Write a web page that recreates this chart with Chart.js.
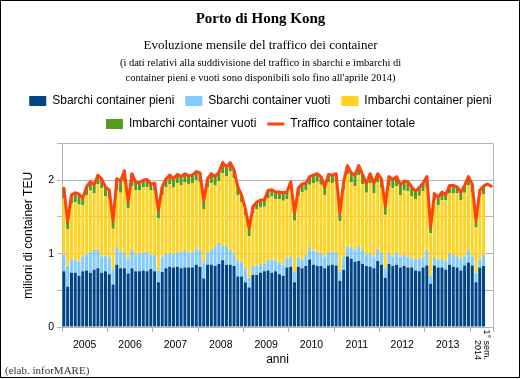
<!DOCTYPE html>
<html>
<head>
<meta charset="utf-8">
<script src="https://cdn.jsdelivr.net/npm/chart.js@4/dist/chart.umd.min.js"></script>
<style>
html,body{margin:0;padding:0;background:#fff;overflow:hidden}
canvas{display:block}
</style>
</head>
<body>
<canvas id="c" width="521" height="379"></canvas>
<script>
// ---- DATA (milioni di TEU, mensili: gen 2005 - giu 2014) ----
const anni = ['2005','2006','2007','2008','2009','2010','2011','2012','2013',''];
const ultimaEtichetta = ['1° sem.', '2014'];
const confiniAnni = [0,12,24,36,48,60,72,84,96,108,114];
const centriAnni = [6,18,30,42,54,66,78,90,102,111];

const sbarchiPieni = [
  .76,.55,.74,.74,.70,.76,.77,.74,.78,.80,.74,.76,
  .72,.58,.85,.80,.80,.73,.80,.76,.76,.77,.76,.79,
  .76,.61,.75,.80,.82,.81,.82,.80,.81,.81,.81,.85,
  .82,.66,.85,.85,.83,.86,.91,.85,.85,.83,.69,.69,
  .61,.54,.71,.71,.74,.76,.77,.74,.76,.72,.70,.81,
  .82,.61,.82,.80,.83,.92,.85,.83,.83,.80,.84,.85,
  .84,.63,.78,.96,.93,.89,.90,.86,.83,.82,.80,.90,
  .85,.67,.86,.83,.85,.81,.83,.81,.81,.77,.76,.81,
  .84,.59,.84,.81,.81,.78,.85,.82,.81,.77,.84,.88,
  .84,.61,.81,.83
];
const sbarchiVuoti = [
  .23,.28,.18,.18,.19,.20,.22,.28,.27,.25,.22,.21,
  .23,.21,.24,.22,.21,.20,.25,.23,.24,.24,.27,.19,
  .22,.16,.20,.20,.18,.18,.20,.21,.24,.21,.21,.22,
  .23,.22,.17,.20,.26,.29,.19,.25,.20,.16,.21,.20,
  .19,.13,.12,.13,.12,.10,.14,.18,.15,.16,.15,.14,
  .13,.14,.13,.12,.15,.17,.19,.19,.17,.16,.18,.17,
  .17,.13,.17,.14,.16,.16,.20,.19,.16,.17,.16,.16,
  .16,.13,.15,.13,.17,.15,.15,.15,.12,.16,.17,.14,
  .21,.11,.10,.11,.12,.12,.15,.16,.15,.16,.12,.17,
  .12,.13,.11,.15
];
const imbarchiPieni = [
  .77,.50,.77,.78,.78,.70,.81,.84,.77,.90,.93,.81,
  .81,.55,.77,.81,.97,.69,.87,.87,.86,.89,.88,.88,
  .88,.71,.85,.90,.95,.91,.94,.92,.92,.93,.94,.93,
  .93,.72,.88,.91,.84,.84,1.00,.96,1.07,1.04,.90,.81,
  .72,.57,.72,.76,.77,.78,.85,.86,.83,.86,.87,.79,
  .93,.70,.84,.92,.88,.85,.92,.96,.94,.84,.95,.94,
  .97,.68,.92,.98,.88,.87,.97,.90,.84,.97,.86,.91,
  .89,.73,.91,.93,.90,.84,.88,.89,.85,.81,.86,.90,
  .85,.58,.79,.74,.80,.83,.82,.84,.86,.80,.87,.88,
  .88,.62,.87,.83
];
const imbarchiVuoti = [
  .13,.10,.11,.13,.14,.10,.11,.12,.12,.12,.13,.13,
  .11,.10,.16,.16,.15,.08,.17,.11,.11,.10,.10,.09,
  .10,.11,.11,.12,.12,.12,.12,.12,.12,.11,.11,.12,
  .12,.12,.12,.13,.12,.12,.14,.12,.12,.11,.11,.10,
  .09,.10,.09,.10,.10,.09,.10,.09,.10,.10,.11,.10,
  .10,.10,.10,.11,.10,.11,.11,.11,.11,.11,.11,.11,
  .11,.11,.11,.12,.13,.15,.13,.13,.12,.13,.14,.12,
  .12,.12,.13,.12,.13,.14,.13,.13,.13,.11,.11,.11,
  .15,.08,.09,.11,.11,.07,.11,.11,.09,.11,.10,.12,
  .11,.09,.07,.11
];
const totale = [
  1.89,1.43,1.80,1.83,1.81,1.76,1.91,1.98,1.94,2.07,2.02,1.91,
  1.87,1.44,2.02,1.99,2.13,1.70,2.09,1.97,1.97,2.00,2.01,1.95,
  1.96,1.59,1.91,2.02,2.07,2.02,2.08,2.05,2.09,2.06,2.07,2.12,
  2.10,1.72,2.02,2.09,2.05,2.11,2.24,2.18,2.24,2.14,1.91,1.80,
  1.61,1.34,1.64,1.70,1.73,1.73,1.86,1.87,1.84,1.84,1.83,1.84,
  1.98,1.55,1.89,1.95,1.96,2.05,2.07,2.09,2.05,1.91,2.08,2.07,
  2.09,1.55,1.98,2.20,2.10,2.07,2.20,2.08,1.95,2.09,1.96,2.09,
  2.02,1.65,2.05,2.01,2.05,1.94,1.99,1.98,1.91,1.85,1.90,1.96,
  2.05,1.36,1.82,1.77,1.84,1.80,1.93,1.93,1.91,1.84,1.93,2.05,
  1.95,1.45,1.86,1.92,1.95,1.92
];
const titolo = 'Porto di Hong Kong';
const sottotitolo = 'Evoluzione mensile del traffico dei container';
const nota = ["(i dati relativi alla suddivisione del traffico in sbarchi e imbarchi di",
              "container pieni e vuoti sono disponibili solo fino all'aprile 2014)"];
const fonte = '(elab. inforMARE)';

// ---- CHART ----
const GRID = '#b3b3b3';
const SERIF = '"Liberation Serif", "Times New Roman", serif';
Chart.defaults.font.family = '"Liberation Sans", Arial, sans-serif';
Chart.defaults.color = '#000';

const toXY = arr => arr.map((v, i) => ({x: i + 0.5, y: v}));

const decor = {
  id: 'decor',
  beforeDraw(chart) {
    const c = chart.ctx;
    c.save(); c.fillStyle = '#fff'; c.fillRect(0, 0, chart.width, chart.height); c.restore();
  },
  afterDraw(chart) {
    const c = chart.ctx;
    c.save();
    c.strokeStyle = '#000'; c.lineWidth = 1;
    c.strokeRect(0.5, 0.5, 519, 377);
    c.fillStyle = '#333';
    c.font = '11px ' + SERIF;
    c.textAlign = 'left'; c.textBaseline = 'middle';
    c.fillText(fonte, 5, 371);
    const px = chart.scales.x2.getPixelForValue(111);
    c.fillStyle = '#000';
    c.font = '9px "Liberation Sans", Arial, sans-serif';
    c.textAlign = 'right';
    c.translate(px, 360);
    c.rotate(Math.PI / 2);
    c.fillText(ultimaEtichetta[0], 0, -4.5);
    c.fillText(ultimaEtichetta[1], 0, 4.5);
    c.restore();
  }
};

const barDs = (label, arr, color) => ({
  label, data: toXY(arr), backgroundColor: color, borderWidth: 0,
  stack: 'b', order: 1, pointStyle: 'rect', xAxisID: 'x', yAxisID: 'y',
  barPercentage: 0.8, categoryPercentage: 1
});

new Chart(document.getElementById('c'), {
  type: 'bar',
  data: {
    datasets: [
      barDs('Sbarchi container pieni', sbarchiPieni, '#004586'),
      barDs('Sbarchi container vuoti', sbarchiVuoti, '#83caff'),
      barDs('Imbarchi container pieni', imbarchiPieni, '#ffd320'),
      barDs('Imbarchi container vuoti', imbarchiVuoti, '#579d1c'),
      {
        type: 'line', label: 'Traffico container totale', data: toXY(totale),
        borderColor: '#ff420e', backgroundColor: '#ff420e', borderWidth: 3,
        pointRadius: 0, pointHoverRadius: 0, pointBorderWidth: 3, pointStyle: 'line',
        tension: 0, fill: false, stack: 't', order: 0,
        borderJoinStyle: 'round', borderCapStyle: 'round',
        xAxisID: 'x', yAxisID: 'y'
      }
    ]
  },
  options: {
    responsive: false, animation: false, devicePixelRatio: 1,
    layout: {padding: {left: 0, right: 0, top: 0, bottom: 12}},
    plugins: {
      title: {display: true, text: titolo, color: '#000',
        font: {family: SERIF, size: 15, weight: 'bold'}, padding: {top: 10, bottom: 4}},
      subtitle: {display: true, text: sottotitolo, color: '#000',
        font: {family: SERIF, size: 13, weight: 'normal'}, padding: {top: 6, bottom: 0}},
      legend: {
        display: true, position: 'top', align: 'center',
        title: {display: true, text: nota, color: '#000',
          font: {family: SERIF, size: 10.5, lineHeight: '15px'}, padding: {top: 4, bottom: 11.4}},
        labels: {usePointStyle: true, pointStyleWidth: 17, boxHeight: 10, padding: 11,
          color: '#000', font: {size: 12},
          sort: (a, b) => a.datasetIndex - b.datasetIndex}
      },
      tooltip: {enabled: false}
    },
    scales: {
      x: {
        type: 'linear', position: 'bottom', weight: 0, min: 0, max: 114, stacked: true, offset: false,
        afterBuildTicks: s => { s.ticks = confiniAnni.map(v => ({value: v})); },
        ticks: {display: false},
        grid: {display: true, offset: false, drawOnChartArea: true, drawTicks: true, tickLength: 5,
          color: c => (c.tick && c.tick.value === 114) ? GRID : 'rgba(0,0,0,0)', tickColor: GRID},
        border: {display: true, color: GRID},
        afterFit: s => { s.height = 5; }
      },
      x2: {
        type: 'linear', position: 'bottom', weight: 1, min: 0, max: 114, offset: false,
        afterBuildTicks: s => { s.ticks = centriAnni.map(v => ({value: v})); },
        ticks: {display: true, autoSkip: false, maxRotation: 0, minRotation: 0, padding: 7,
          color: '#000', font: {size: 10.5}, callback: (v, i) => anni[i]},
        grid: {display: false, offset: false, drawTicks: false},
        border: {display: false},
        title: {display: true, text: 'anni', color: '#000', font: {size: 12}, padding: {top: 0, bottom: 0}},
        afterFit: s => { s.height = 35; }
      },
      xt: {
        type: 'linear', position: 'top', weight: 0, min: 0, max: 114, offset: false,
        ticks: {display: false}, grid: {display: false, offset: false, drawTicks: false}, border: {display: false},
        afterFit: s => { s.height = 3.6; }
      },
      y: {
        type: 'linear', position: 'left', min: 0, max: 2.5, stacked: true,
        ticks: {stepSize: 0.5, color: '#000', font: {size: 10.5}, padding: 3,
          callback: v => Number.isInteger(v) ? String(v) : ''},
        grid: {color: GRID, tickColor: GRID, tickLength: 5},
        border: {color: GRID},
        title: {display: true, text: 'milioni di container TEU', color: '#000',
          font: {size: 12}, padding: {top: 21, bottom: 0}},
        afterFit: s => { s.width = 62; }
      },
      y2: {
        type: 'linear', position: 'right',
        ticks: {display: false}, grid: {display: false, drawTicks: false}, border: {display: false},
        afterFit: s => { s.width = 28; }
      }
    }
  },
  plugins: [decor]
});
</script>
</body>
</html>
